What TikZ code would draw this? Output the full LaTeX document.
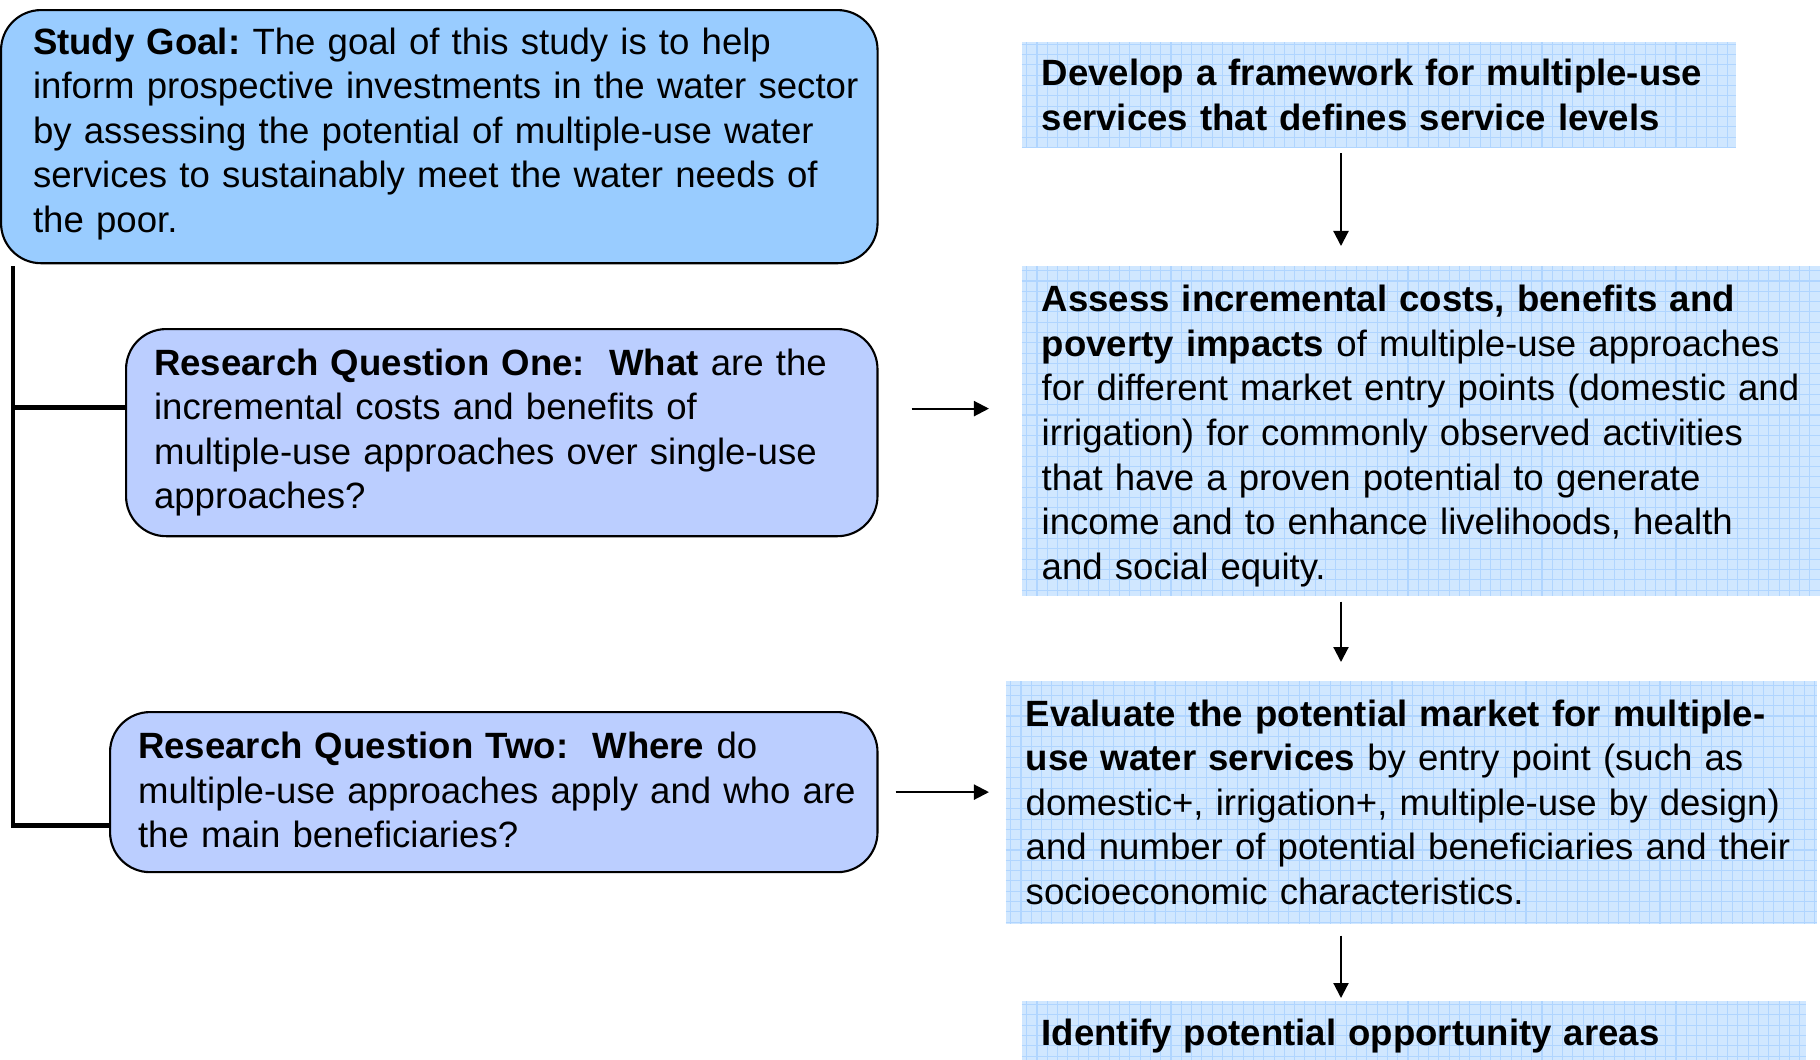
\documentclass[tikz,border=0pt]{standalone}
\usepackage{fontspec}
\setmainfont{Liberation Sans}
\usepackage{xcolor}
\usetikzlibrary{arrows.meta, positioning, calc}

\definecolor{goalblue}{RGB}{153,204,255}
\definecolor{questionblue}{RGB}{187,206,255}
\definecolor{gridfill}{RGB}{208,231,255}
\definecolor{gridline}{RGB}{176,213,255}

\tikzset{
  textbox/.style={anchor=north west, align=left, inner xsep=0.05cm, inner ysep=0pt,
    font=\fontsize{10.4}{12.66}\selectfont\frenchspacing},
  textindent/.style={execute at begin node={\leftskip=#1\relax}},
  roundbox/.style={textbox, draw, line width=0.6pt, rounded corners=0.4cm},
  gridbox/.style={textbox, fill=gridfill,
    path picture={\draw[gridline, line width=0.3pt]
      (path picture bounding box.south west) grid[step=0.103cm]
      (path picture bounding box.north east);}},
  bracket/.style={line width=1.4pt},
  arrow/.style={line width=0.6pt, -{Triangle[length=0.15cm, width=0.15cm]}}
}

\begin{document}
\begin{tikzpicture}[x=0.01cm, y=-0.01cm]
  \useasboundingbox (0,0) rectangle (1820,1059);

  % Goal and questions
  \node[roundbox, fill=goalblue, textindent=0.27cm, text width=8.66cm,
    minimum height=2.53cm, text height=6pt] (goal) at (0,9)
    {\textbf{Study Goal:} The goal of this study is to help\\
     inform prospective investments in the water sector\\
     by assessing the potential of multiple-use water\\
     services to sustainably meet the water needs of\\
     the poor.};
  \node[roundbox, fill=questionblue, textindent=0.23cm, text width=7.41cm,
    minimum height=2.07cm] (rq1) at (125,328)
    {\textbf{Research Question One:\ \ What} are the\\
     incremental costs and benefits of\\
     multiple-use approaches over single-use\\
     approaches?};
  \node[roundbox, fill=questionblue, textindent=0.23cm, text width=7.57cm,
    minimum height=1.60cm, text height=6.4pt] (rq2) at (109,711)
    {\textbf{Research Question Two:\ \ Where} do\\
     multiple-use approaches apply and who are\\
     the main beneficiaries?};

  % Steps
  \node[gridbox, textindent=0.15cm, text width=7.04cm,
    minimum height=1.06cm] (develop) at (1021,41)
    {\textbf{Develop a framework for multiple-use}\\
     \textbf{services that defines service levels}};
  \node[gridbox, textindent=0.15cm, text width=7.89cm,
    minimum height=3.30cm, text height=10.5pt] (assess) at (1021,265)
    {\textbf{Assess incremental costs, benefits and}\\
     \textbf{poverty impacts} of multiple-use approaches\\
     for different market entry points (domestic and\\
     irrigation) for commonly observed activities\\
     that have a proven potential to generate\\
     income and to enhance livelihoods, health\\
     and social equity.};
  \node[gridbox, textindent=0.15cm, text width=8.01cm,
    minimum height=2.43cm] (evaluate) at (1005,680)
    {\textbf{Evaluate the potential market for multiple-}\\
     \textbf{use water services} by entry point (such as\\
     domestic+, irrigation+, multiple-use by design)\\
     and number of potential beneficiaries and their\\
     socioeconomic characteristics.};
  \node[gridbox, textindent=0.15cm, text width=7.74cm,
    minimum height=0.66cm, text height=9pt] (identify) at (1021,1000)
    {\textbf{Identify potential opportunity areas}};

  % Bracket
  \coordinate (spine) at (13,266);
  \coordinate (rq1in) at ([yshift=0.25cm]rq1.west);
  \draw[bracket] (spine) |- ([yshift=-0.33cm]rq2.west);
  \draw[bracket] (rq1in) -- (spine |- rq1in);

  % Arrows
  \coordinate (axis) at (1341,0);
  \coordinate (rq1out) at ([yshift=0.24cm]rq1.east);
  \draw[arrow, shorten <=0.33cm, shorten >=0.32cm] (rq1out) -- (rq1out -| assess.west);
  \draw[arrow, shorten <=0.17cm, shorten >=0.16cm] (rq2.east) -- (rq2.east -| evaluate.west);
  \draw[arrow, shorten <=0.05cm, shorten >=0.19cm] (develop.south -| axis) -- (assess.north -| axis);
  \draw[arrow, shorten <=0.05cm, shorten >=0.18cm] (assess.south -| axis) -- (evaluate.north -| axis);
  \draw[arrow, shorten <=0.11cm, shorten >=0.02cm] (evaluate.south -| axis) -- (identify.north -| axis);
\end{tikzpicture}
\end{document}
